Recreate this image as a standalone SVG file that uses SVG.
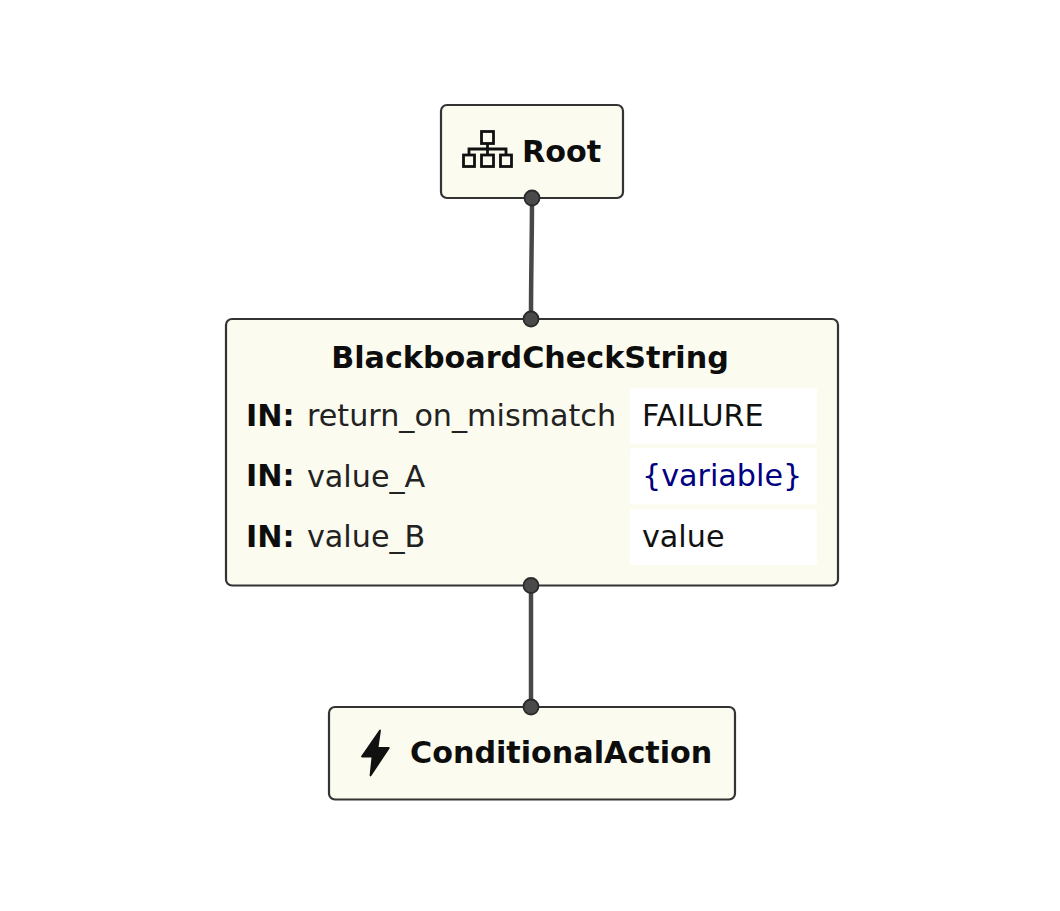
<svg xmlns="http://www.w3.org/2000/svg" width="1060" height="911" viewBox="0 0 1060 911">
<style>
.n{fill:#fbfcef;stroke:#333;stroke-width:2.200}
.t{font-family:"DejaVu Sans",sans-serif;font-size:30.200px;fill:#111}
.b{font-weight:bold;fill:#0d0d0d}
.k{fill:#222}
.v{fill:#fff}
.c{fill:none;stroke:#484848;stroke-width:4.500}
.d{fill:#4a4a4a;stroke:#2a2a2a;stroke-width:1.800}
.i{fill:none;stroke:#111;stroke-width:2.800;stroke-linejoin:miter}
</style>
<rect width="1060" height="911" fill="#fff"/>
<g id="connectors">
<path class="c" d="M532 198C532 240 531 270 531 319"/>
<path class="c" d="M531 585.500V707"/>
</g>
<g id="root">
<rect class="n" x="441" y="105" width="182" height="93" rx="6"/>
<g class="i"><rect x="481.500" y="131.500" width="12" height="12"/><rect x="463.500" y="155" width="11" height="11.500"/><rect x="481.500" y="155" width="12" height="11.500"/><rect x="500.500" y="155" width="11" height="11.500"/><path d="M487.500 143.500V155M469 155V149H506V155"/></g>
<text class="t b" x="522" y="162">Root</text>
</g>
<g id="check">
<rect class="n" x="226" y="319" width="612" height="266.500" rx="6"/>
<text class="t b" x="530" y="368" text-anchor="middle">BlackboardCheckString</text>
<rect class="v" x="630" y="388" width="187" height="55.500" rx="2"/>
<rect class="v" x="630" y="448.300" width="187" height="56" rx="2"/>
<rect class="v" x="630" y="509.500" width="187" height="55.500" rx="2"/>
<text class="t b" x="246" y="426">IN:</text><text class="t k" x="307" y="426">return_on_mismatch</text><text class="t" x="642" y="426">FAILURE</text>
<text class="t b" x="246" y="486">IN:</text><text class="t k" x="307" y="487">value_A</text><text class="t" x="642" y="486" style="fill:#000080">{variable}</text>
<text class="t b" x="246" y="547">IN:</text><text class="t k" x="307" y="547">value_B</text><text class="t" x="642" y="547">value</text>
</g>
<g id="action">
<rect class="n" x="329" y="707" width="406" height="92.500" rx="6"/>
<path d="M380 730.500L362 756.500H372.500L370.500 775.500L388.800 748H377.500Z" fill="#111" stroke="#111" stroke-width="1.800" stroke-linejoin="round"/>
<text class="t b" x="410" y="763">ConditionalAction</text>
</g>
<g id="ports">
<circle class="d" cx="532" cy="198" r="7.500"/>
<circle class="d" cx="531" cy="319" r="7.500"/>
<circle class="d" cx="531" cy="585.500" r="7.500"/>
<circle class="d" cx="531" cy="707" r="7.500"/>
</g>
</svg>
